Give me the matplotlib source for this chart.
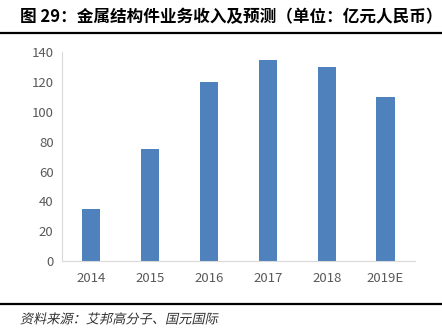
import matplotlib.pyplot as plt
from matplotlib.lines import Line2D
from matplotlib.patheffects import AbstractPathEffect
from matplotlib.transforms import Affine2D

plt.rcParams['font.family'] = ['Noto Sans CJK SC', 'DejaVu Sans']

years = ["2014", "2015", "2016", "2017", "2018", "2019E"]
revenue = [35, 75, 120, 135, 130, 110]


class Slant(AbstractPathEffect):
    # fake italic: shear the glyph outlines before placing them
    def __init__(self, deg=12):
        super().__init__()
        self.deg = deg

    def draw_path(self, renderer, gc, tpath, affine, rgbFace=None):
        renderer.draw_path(gc, tpath, Affine2D().skew_deg(self.deg, 0) + affine, rgbFace)


fig = plt.figure(figsize=(4.42, 3.36), dpi=100)
ax = fig.add_axes([0.140, 0.223, 0.799, 0.622])

ax.bar(range(len(years)), revenue, width=0.31, color="#4F81BD")
ax.set_xlim(-0.5, len(years) - 0.5)
ax.set_ylim(0, 140)
ax.set_yticks(range(0, 141, 20))
ax.set_xticks(range(len(years)))
ax.set_xticklabels(years)

for s in ["top", "right"]:
    ax.spines[s].set_visible(False)
for s in ["left", "bottom"]:
    ax.spines[s].set_color("#D9D9D9")
ax.tick_params(length=0, colors="#595959", labelsize=9.5, pad=6)
ax.tick_params(axis="x", pad=8)

fig.text(0.045, 0.948, "图 29：金属结构件业务收入及预测（单位：亿元人民币）",
         fontsize=12, fontweight="bold", va="center", ha="left")
fig.add_artist(Line2D([0, 1], [0.903, 0.903], color="black", lw=1.6))
fig.add_artist(Line2D([0, 1], [0.095, 0.095], color="black", lw=1.6))
src = fig.text(0.045, 0.048, "资料来源：艾邦高分子、国元国际", fontsize=9.5,
               va="center", ha="left", color="#333333")
src.set_path_effects([Slant(12)])

fig.savefig("out.png", dpi=100)
